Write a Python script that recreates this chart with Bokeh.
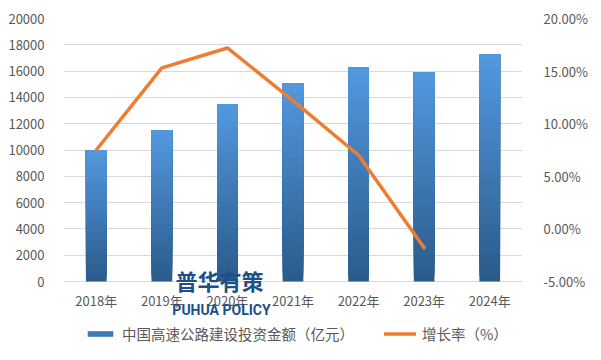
from bokeh.plotting import figure
from bokeh.models import (Range1d, LinearAxis, FixedTicker, PrintfTickFormatter,
                          ColumnDataSource, Legend, LegendItem, Label, FactorRange)
from bokeh.core.properties import value
from bokeh.embed import file_html
from bokeh.resources import INLINE

years = ["2018年", "2019年", "2020年", "2021年", "2022年", "2023年", "2024年"]
investment = [10000, 11500, 13500, 15100, 16300, 15900, 17300]
growth_years = ["2018年", "2019年", "2020年", "2021年", "2022年", "2023年"]
growth = [7.5, 15.3, 17.2, 12.2, 7.0, -1.8]
left_ticks = [0, 2000, 4000, 6000, 8000, 10000, 12000, 14000, 16000, 18000, 20000]
right_ticks = [-5, 0, 5, 10, 15, 20]

FONT = "Noto Sans CJK SC"
GREY = "#595959"

W, H = 590, 344
TOP, ZERO_PX = 18, 281          # frame top and pixel row of the zero line
YMAX = 20000
units_per_px = YMAX / (ZERO_PX - TOP)
ymin = -(H - ZERO_PX) * units_per_px          # frame extends under the zero line
pmin, pmax = -5.0, 20.0
pct_per_unit = (pmax - pmin) / YMAX

p = figure(width=W, height=H, x_range=FactorRange(*years, range_padding=0),
           y_range=Range1d(ymin, YMAX), output_backend="svg", toolbar_location=None,
           min_border_left=63, min_border_right=60, min_border_top=TOP, min_border_bottom=0)
p.outline_line_color = None
p.background_fill_color = "white"
p.border_fill_color = "white"
p.extra_y_ranges = {"pct": Range1d(pmin + ymin * pct_per_unit, pmax)}

# gradient bars built from the data values (overlapping slices, no gaps)
N = 40
def mix(c1, c2, t):
    return "#%02x%02x%02x" % tuple(int(round(a + (b - a) * t)) for a, b in zip(c1, c2))
top_c = (0x52, 0x99, 0xdf)
bot_c = (0x2b, 0x5a, 0x8a)
xs, bots, tops, cols = [], [], [], []
for i in range(N):
    for yr, v in zip(years, investment):
        xs.append(yr)
        bots.append(v * i / N)
        tops.append(v)
        cols.append(mix(bot_c, top_c, (i + 0.5) / N))
src = ColumnDataSource(dict(x=xs, bottom=bots, top=tops, color=cols))
bars = p.vbar(x="x", bottom="bottom", top="top", width=0.315, source=src,
              fill_color="color", line_color=None)

line = p.line(growth_years, growth, y_range_name="pct", line_color="#ed7d31",
              line_width=3.5, line_join="round", line_cap="round")

# category labels under the zero line
p.text(x=years, y=[0] * len(years), text=years, y_offset=19,
       text_font=value(FONT), text_font_size="13px", text_color=GREY,
       text_align="center", text_baseline="middle")

# axes
p.xaxis.visible = False
p.yaxis.ticker = FixedTicker(ticks=left_ticks)
p.yaxis.axis_line_color = None
p.yaxis.major_tick_line_color = None
p.yaxis.minor_tick_line_color = None
p.yaxis.major_label_text_font = FONT
p.yaxis.major_label_text_font_size = "13px"
p.yaxis.major_label_text_color = GREY
p.yaxis.major_label_standoff = 13

ax_r = LinearAxis(y_range_name="pct", ticker=FixedTicker(ticks=right_ticks),
                  formatter=PrintfTickFormatter(format="%.2f%%"))
ax_r.axis_line_color = None
ax_r.major_tick_line_color = None
ax_r.minor_tick_line_color = None
ax_r.major_label_text_font = FONT
ax_r.major_label_text_font_size = "13px"
ax_r.major_label_text_color = GREY
ax_r.major_label_standoff = 15
p.add_layout(ax_r, "right")

p.xgrid.grid_line_color = None
p.ygrid.grid_line_color = "#d9d9d9"
p.ygrid.grid_line_width = 1
p.ygrid.ticker = FixedTicker(ticks=left_ticks)

legend = Legend(items=[
    LegendItem(label="中国高速公路建设投资金额（亿元）", renderers=[bars], index=len(years) * (N // 2)),
    LegendItem(label="增长率（%）", renderers=[line]),
], orientation="horizontal", location=(21, 0), glyph_width=32, glyph_height=7,
   label_text_font=FONT, label_text_font_size="14.5px", label_text_color=GREY,
   spacing=30, label_standoff=6, border_line_color=None, background_fill_alpha=0,
   padding=0, margin=0, label_height=14)
p.add_layout(legend)

# watermark
wm1 = Label(x=156, y=65, x_units="screen", y_units="screen", text="普华有策",
            text_font=FONT, text_font_size="22px", text_font_style="bold",
            text_color="#1d4f88", text_align="center", text_baseline="middle")
wm2 = Label(x=158, y=35, x_units="screen", y_units="screen", text="PUHUA POLICY",
            text_font="Roboto", text_font_size="14px", text_font_style="bold",
            text_color="#1d4f88", text_align="center", text_baseline="middle")
p.add_layout(wm1)
p.add_layout(wm2)

open("out.html", "w").write(file_html(p, INLINE))
